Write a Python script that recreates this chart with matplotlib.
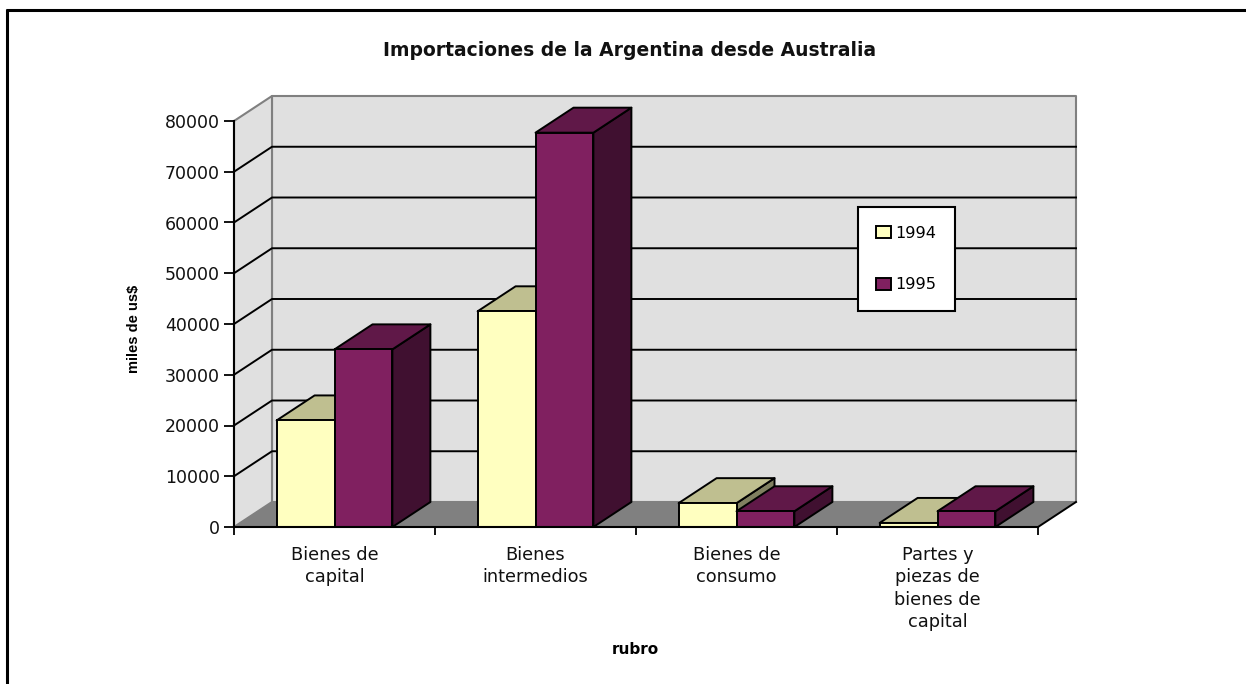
import matplotlib
matplotlib.use("Agg")
import matplotlib.pyplot as plt
from matplotlib.lines import Line2D
from matplotlib.patches import Polygon, Patch

categories = ["Bienes de\ncapital", "Bienes\nintermedios", "Bienes de\nconsumo",
              "Partes y\npiezas de\nbienes de\ncapital"]
values_1994 = [21000, 42500, 4700, 800]
values_1995 = [35000, 77700, 3100, 3100]
series_names = ["1994", "1995"]
y_ticks = [0, 10000, 20000, 30000, 40000, 50000, 60000, 70000, 80000]
title = "Importaciones de la Argentina desde Australia"
y_label = "miles de us$"
x_label = "rubro"

W, H = 1246, 684
plt.rcParams["font.family"] = ["DejaVu Sans"]
C_FRONT = ["#FFFFC0", "#802060"]
C_TOP = ["#BFBF90", "#601848"]
C_SIDE = ["#808060", "#401030"]
WALL, FLOOR, EDGE = "#E0E0E0", "#808080", "#808080"
TEXT = "#111111"

fig = plt.figure(figsize=(W / 100, H / 100), dpi=100, facecolor="white")
L, R, T, B = 234, 1038, 121, 527
ax = fig.add_axes([L / W, 1 - B / H, (R - L) / W, (B - T) / H])
ax.set_xlim(0, len(categories))
ax.set_ylim(0, y_ticks[-1])
ax.patch.set_visible(False)

DX = 38 / (R - L) * len(categories)
DY = 25 / (B - T) * y_ticks[-1]
WIDTH = 0.288
ymax = y_ticks[-1]
xmax = len(categories)
LW = 1.4


def poly(pts, fc, z, ec="black", lw=LW):
    ax.add_patch(Polygon(pts, closed=True, facecolor=fc, edgecolor=ec, linewidth=lw,
                         zorder=z, clip_on=False, joinstyle="round"))


# walls and floor
poly([(DX, DY), (xmax + DX, DY), (xmax + DX, ymax + DY), (DX, ymax + DY)], WALL, 1, EDGE, 1.5)
poly([(0, 0), (DX, DY), (DX, ymax + DY), (0, ymax)], WALL, 1, EDGE, 1.5)
poly([(0, 0), (xmax, 0), (xmax + DX, DY), (DX, DY)], FLOOR, 1.5, "none", 0)
ax.plot([xmax, xmax + DX], [0, DY], color="black", lw=LW, zorder=1.6, clip_on=False)
for v in y_ticks[1:-1]:
    ax.plot([0, DX, xmax + DX], [v, v + DY, v + DY], color="black", lw=LW, zorder=2, clip_on=False)

# bars: each one gets side, top, then front, first series behind the second
for i, vals in enumerate((values_1994, values_1995)):
    for c, v in enumerate(vals):
        x0 = c + 0.5 - WIDTH + i * WIDTH
        x1 = x0 + WIDTH
        z = 3 + c + i * 0.5
        poly([(x1, 0), (x1 + DX, DY), (x1 + DX, v + DY), (x1, v)], C_SIDE[i], z)
        poly([(x0, v), (x1, v), (x1 + DX, v + DY), (x0 + DX, v + DY)], C_TOP[i], z)
        ax.bar([x0], [v], width=WIDTH, align="edge", color=C_FRONT[i], edgecolor="black",
               linewidth=LW, clip_on=False, zorder=z + 0.1)

# axes
for s in ("top", "right"):
    ax.spines[s].set_visible(False)
for s in ("left", "bottom"):
    ax.spines[s].set_linewidth(1.5)
    ax.spines[s].set_zorder(20)
ax.set_yticks(y_ticks)
ax.set_yticklabels([str(v) for v in y_ticks], fontsize=12.5, color=TEXT)
ax.tick_params(axis="y", length=7, width=1.3, pad=3)
ax.set_xticks(range(len(categories) + 1))
ax.set_xticklabels([""] * (len(categories) + 1))
ax.tick_params(axis="x", which="major", length=6, width=1.3)
ax.set_xticks([c + 0.5 for c in range(len(categories))], minor=True)
ax.set_xticklabels(categories, minor=True, fontsize=12.8, linespacing=1.32, color=TEXT)
ax.tick_params(axis="x", which="minor", length=0, pad=13.5)

fig.text(630 / W, 1 - 51 / H, title, ha="center", va="center", fontsize=13.5, fontweight="bold",
         color=TEXT)
fig.text(134 / W, 1 - 329 / H, y_label, ha="center", va="center", rotation=90,
         fontsize=10.5, fontweight="bold", family=["Liberation Sans"])
fig.text(635 / W, 1 - 649 / H, x_label, ha="center", va="center", fontsize=11, fontweight="bold")

# legend
handles = [Patch(facecolor=C_FRONT[i], edgecolor="black", linewidth=1.4, label=series_names[i])
           for i in range(2)]
leg = fig.legend(handles=handles, loc="center", bbox_to_anchor=(906.5 / W, 1 - 259 / H),
                 fontsize=11.6, frameon=True, fancybox=False, framealpha=1, edgecolor="black",
                 labelspacing=2.29, handlelength=0.88, handleheight=0.8, handletextpad=0.3,
                 borderpad=1.14, borderaxespad=0)
leg.get_frame().set_linewidth(1.5)
leg.set_zorder(30)

# chart border (left and top only)
fig.add_artist(Line2D([7 / W, 7 / W], [0, 1 - 9 / H], color="black", lw=2.2, solid_capstyle="butt"))
fig.add_artist(Line2D([6 / W, 1], [1 - 10 / H, 1 - 10 / H], color="black", lw=2.2, solid_capstyle="butt"))

fig.savefig("out.png", dpi=100)
